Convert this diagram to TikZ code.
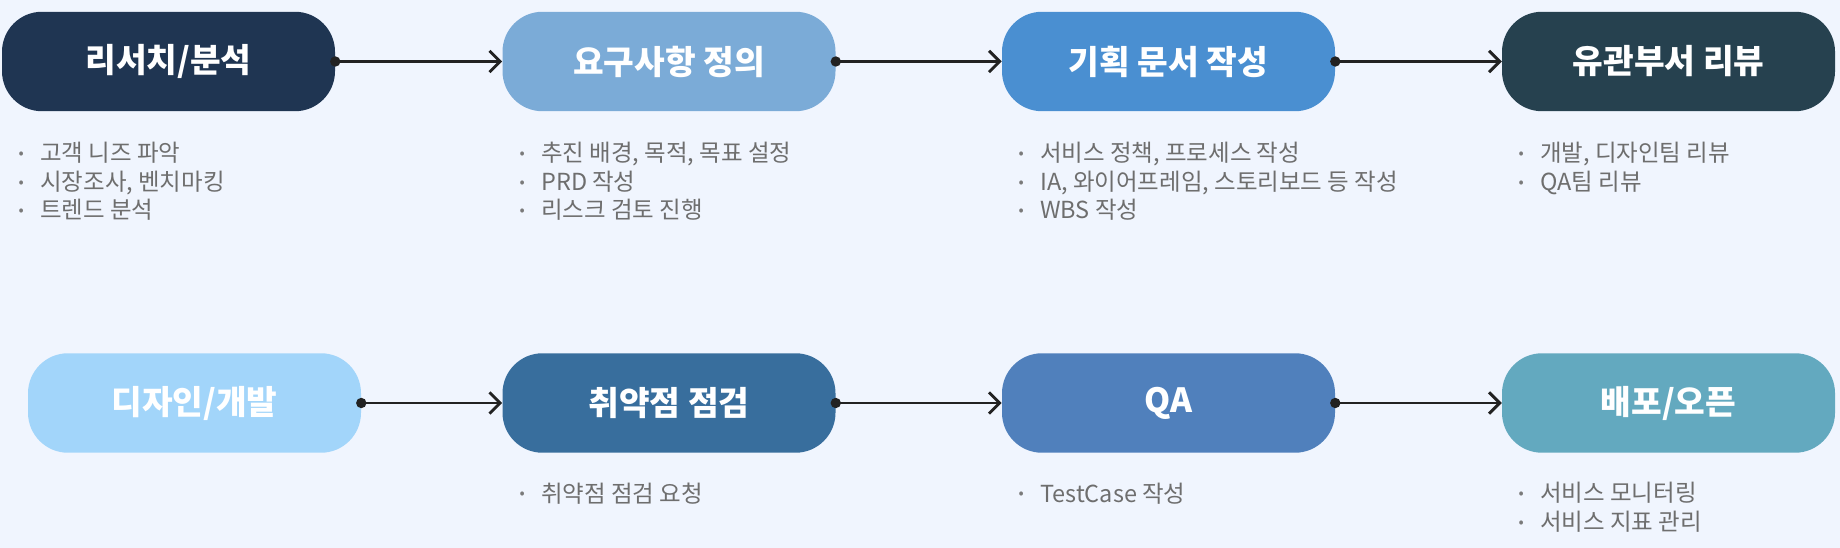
\documentclass[tikz,border=0pt]{standalone}
\usepackage{fontspec}
\setmainfont{Noto Sans CJK KR}
\usetikzlibrary{arrows.meta}
\definecolor{bgc}{HTML}{F0F5FE}
\definecolor{c1}{HTML}{1F3552}
\definecolor{c2}{HTML}{7BABD7}
\definecolor{c3}{HTML}{4A8FD1}
\definecolor{c4}{HTML}{26414F}
\definecolor{c5}{HTML}{A2D5FA}
\definecolor{c6}{HTML}{386E9D}
\definecolor{c7}{HTML}{5080BC}
\definecolor{c8}{HTML}{63A9BF}
\definecolor{notegray}{HTML}{6E6E6E}
\definecolor{bulgray}{HTML}{7A7A7A}
\definecolor{arrowc}{HTML}{222222}
\newcommand\bl{\makebox[28.5pt][c]{\raisebox{2.4pt}{\textcolor{bulgray}{\fontsize{11.5pt}{11.5pt}\selectfont •}}}}
\tikzset{
  stage/.style={rounded corners=30pt, minimum width=249.75pt, minimum height=74.6pt,
    inner sep=0pt, text=white, font=\fontsize{25pt}{30pt}\selectfont\bfseries},
  notes/.style={anchor=base west, align=left, inner sep=0pt, text=notegray,
    font=\fontsize{17.6pt}{21.4pt}\selectfont},
  conn/.style={draw=arrowc, line width=2.2pt, -{Straight Barb[length=8pt,width=16pt]}},
  startdot/.style={fill=arrowc},
}
\begin{document}
\begin{tikzpicture}[x=0.75pt,y=-0.75pt]
\fill[bgc] (0,0) rectangle (1840,548);
\useasboundingbox (0,0) rectangle (1840,548);
% row 1
\node[stage, fill=c1] (s1) at (168.5,61.5) {리서치/분석};
\node[stage, fill=c2] (s2) at (669,61.5) {요구사항 정의};
\node[stage, fill=c3] (s3) at (1168.5,61.5) {기획 문서 작성};
\node[stage, fill=c4] (s4) at (1668.5,61.5) {유관부서 리뷰};
% row 2
\node[stage, fill=c5] (s5) at (194.5,403) {디자인/개발};
\node[stage, fill=c6] (s6) at (669,403) {취약점 점검};
\node[stage, fill=c7] (s7) at (1168.5,403) {QA};
\node[stage, fill=c8] (s8) at (1668.5,403) {배포/오픈};
% notes (anchor = baseline of the last line)
\node[notes] (n1) at (2,219) {\bl 고객 니즈 파악\\ \bl 시장조사, 벤치마킹\\ \bl 트렌드 분석};
\node[notes] (n2) at (503,219) {\bl 추진 배경, 목적, 목표 설정\\ \bl PRD 작성\\ \bl 리스크 검토 진행};
\node[notes] (n3) at (1002,219) {\bl 서비스 정책, 프로세스 작성\\ \bl IA, 와이어프레임, 스토리보드 등 작성\\ \bl WBS 작성};
\node[notes] (n4) at (1502,190.5) {\bl 개발, 디자인팀 리뷰\\ \bl QA팀 리뷰};
\node[notes] (n6) at (503,502) {\bl 취약점 점검 요청};
\node[notes] (n7) at (1002,502) {\bl TestCase 작성};
\node[notes] (n8) at (1502,530.5) {\bl 서비스 모니터링\\ \bl 서비스 지표 관리};
% connectors
\foreach \a/\b in {s1/s2,s2/s3,s3/s4,s5/s6,s6/s7,s7/s8}{
  \draw[conn] (\a.east) -- (\b.west);
  \fill[startdot] (\a.east) circle[radius=3.9pt];
}
\end{tikzpicture}
\end{document}
